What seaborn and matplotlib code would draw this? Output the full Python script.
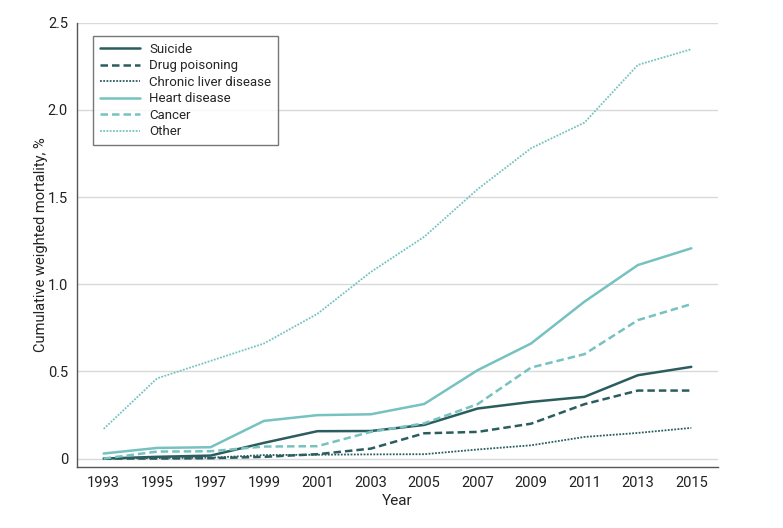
import matplotlib
matplotlib.use("Agg")
import matplotlib.pyplot as plt
import pandas as pd
import seaborn as sns

years = [1993, 1995, 1997, 1999, 2001, 2003, 2005, 2007, 2009, 2011, 2013, 2015]

suicide = [0.0, 0.01, 0.017, 0.09, 0.157, 0.158, 0.193, 0.287, 0.325, 0.354, 0.478, 0.526]
drug_poisoning = [0.0, 0.0, 0.002, 0.01, 0.025, 0.057, 0.145, 0.153, 0.2, 0.312, 0.39, 0.39]
liver = [0.0, 0.003, 0.005, 0.02, 0.022, 0.024, 0.025, 0.052, 0.076, 0.124, 0.147, 0.176]
heart = [0.029, 0.061, 0.065, 0.216, 0.249, 0.254, 0.313, 0.507, 0.66, 0.9, 1.11, 1.206]
cancer = [0.0, 0.04, 0.042, 0.069, 0.071, 0.153, 0.202, 0.312, 0.522, 0.599, 0.794, 0.886]
other = [0.17, 0.46, 0.56, 0.66, 0.83, 1.07, 1.272, 1.545, 1.78, 1.927, 2.258, 2.348]

series_names = ["Suicide", "Drug poisoning", "Chronic liver disease",
                "Heart disease", "Cancer", "Other"]
series_values = [suicide, drug_poisoning, liver, heart, cancer, other]

DARK = "#2c5d5e"
LIGHT = "#76c2c0"
styles = {
    "Suicide": (DARK, "-", 1.8),
    "Drug poisoning": (DARK, (0, (3, 1.6)), 1.8),
    "Chronic liver disease": (DARK, (0, (1, 0.8)), 1.3),
    "Heart disease": (LIGHT, "-", 1.8),
    "Cancer": (LIGHT, (0, (3, 1.6)), 1.8),
    "Other": (LIGHT, (0, (1, 0.8)), 1.3),
}

rows = []
for name, vals in zip(series_names, series_values):
    for y, v in zip(years, vals):
        rows.append({"year": y, "value": v, "cause": name})
df = pd.DataFrame(rows)

sns.set_style("white")
plt.rcParams["font.family"] = ["Roboto", "DejaVu Sans"]

fig = plt.figure(figsize=(7.83, 5.28), dpi=100)
ax = fig.add_axes([0.0983, 0.115, 0.8187, 0.842])

for name in series_names:
    color, ls, lw = styles[name]
    sub = df[df["cause"] == name]
    sns.lineplot(data=sub, x="year", y="value", ax=ax, color=color,
                 linestyle=ls, linewidth=lw, label=name)

ax.set_xlim(1992, 2016)
ax.set_ylim(-0.05, 2.5)
ax.set_xticks(years)
ax.set_yticks([0, 0.5, 1.0, 1.5, 2.0, 2.5])
ax.set_yticklabels(["0", "0.5", "1.0", "1.5", "2.0", "2.5"])
ax.yaxis.grid(True, color="#d9d9d9", linewidth=1)
ax.set_axisbelow(True)

for side in ["top", "right"]:
    ax.spines[side].set_visible(False)
for side in ["left", "bottom"]:
    ax.spines[side].set_color("#555555")
    ax.spines[side].set_linewidth(1)

ax.tick_params(axis="both", which="major", length=4, width=1, color="#888888",
               labelsize=10.5, labelcolor="#222222", direction="out", pad=2.5)

ax.set_xlabel("Year", fontsize=11, color="#222222", labelpad=3)
ax.set_ylabel("Cumulative weighted mortality, %", fontsize=10.5, color="#222222")
ax.yaxis.set_label_coords(-0.045, 0.5)

leg = ax.legend(loc="upper left", bbox_to_anchor=(0.025, 0.97), fontsize=9.5,
                frameon=True, fancybox=False, handlelength=3.1,
                borderpad=0.5, labelspacing=0.27, handletextpad=0.68,
                borderaxespad=0)
leg.get_frame().set_edgecolor("#555555")
leg.get_frame().set_linewidth(1)

plt.savefig("out.png", dpi=100)
